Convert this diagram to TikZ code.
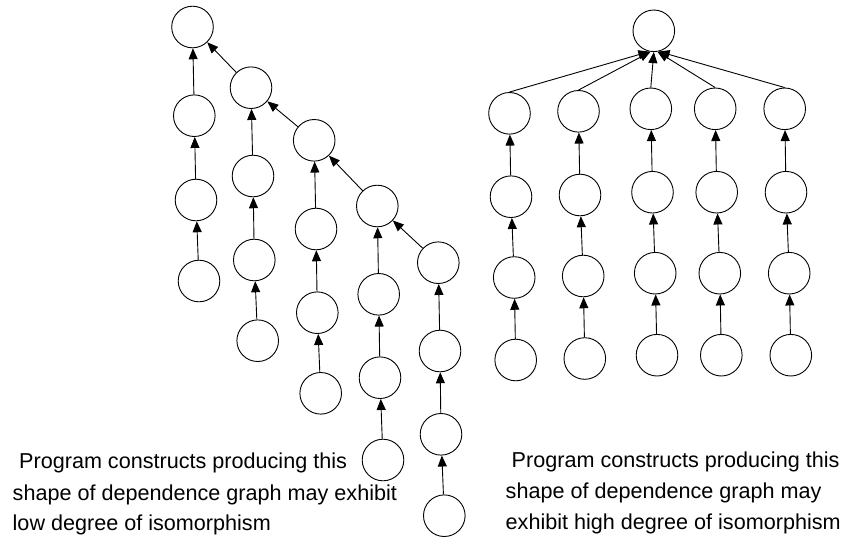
\documentclass[tikz,border=0pt]{standalone}
\usepackage{fontspec}
\setmainfont{Liberation Sans}
\usetikzlibrary{arrows.meta}

\begin{document}
\begin{tikzpicture}[x=1pt,y=-1pt,
  vertex/.style={circle,draw=black,line width=0.9pt,minimum size=41.6pt,inner sep=0pt},
  dep/.style={draw=black,line width=0.9pt,-{Triangle[length=11pt,width=9pt]}},
  caption/.style={anchor=base west,inner sep=0pt,font=\fontsize{21.6}{29.5}\selectfont}]
\useasboundingbox (0,0) rectangle (852,539);

% ---- staircase-shaped dependence graph ----
\node[vertex] (a1) at (192.5,27.0) {};
\node[vertex] (a2) at (194.3,115.7) {};
\node[vertex] (a3) at (196.0,200.0) {};
\node[vertex] (a4) at (199.0,281.0) {};

\node[vertex] (b1) at (251.0,87.7) {};
\node[vertex] (b2) at (253.0,176.0) {};
\node[vertex] (b3) at (254.3,260.0) {};
\node[vertex] (b4) at (257.7,340.7) {};

\node[vertex] (c1) at (314.2,140.3) {};
\node[vertex] (c2) at (316.0,229.0) {};
\node[vertex] (c3) at (317.3,312.7) {};
\node[vertex] (c4) at (320.7,393.3) {};

\node[vertex] (d1) at (377.3,206.0) {};
\node[vertex] (d2) at (378.7,294.3) {};
\node[vertex] (d3) at (380.0,377.7) {};
\node[vertex] (d4) at (383.0,460.0) {};

\node[vertex] (e1) at (438.3,262.7) {};
\node[vertex] (e2) at (440.0,351.0) {};
\node[vertex] (e3) at (441.0,434.3) {};
\node[vertex] (e4) at (444.3,515.7) {};

\foreach \p in {a,b,c,d,e}{
  \path[dep] (\p2) -- (\p1);
  \path[dep] (\p3) -- (\p2);
  \path[dep] (\p4) -- (\p3);
}
\path[dep] (b1) -- (a1);
\path[dep] (c1) -- (b1);
\path[dep] (d1) -- (c1);
\path[dep] (e1) -- (d1);

% ---- fan-shaped dependence graph ----
\node[vertex] (r) at (653.8,30.8) {};

\node[vertex] (p1) at (509.5,113.3) {};
\node[vertex] (p2) at (511.0,196.7) {};
\node[vertex] (p3) at (514.2,277.5) {};
\node[vertex] (p4) at (515.7,360.0) {};

\node[vertex] (q1) at (578.5,111.3) {};
\node[vertex] (q2) at (580.0,195.0) {};
\node[vertex] (q3) at (583.2,276.0) {};
\node[vertex] (q4) at (584.8,358.5) {};

\node[vertex] (s1) at (650.8,108.8) {};
\node[vertex] (s2) at (652.5,192.2) {};
\node[vertex] (s3) at (655.2,273.2) {};
\node[vertex] (s4) at (657.0,355.2) {};

\node[vertex] (t1) at (715.2,108.8) {};
\node[vertex] (t2) at (716.7,192.2) {};
\node[vertex] (t3) at (719.8,273.2) {};
\node[vertex] (t4) at (721.3,355.2) {};

\node[vertex] (u1) at (784.7,108.8) {};
\node[vertex] (u2) at (786.0,192.2) {};
\node[vertex] (u3) at (789.2,273.2) {};
\node[vertex] (u4) at (790.8,355.2) {};

\foreach \p in {p,q,s,t,u}{
  \path[dep] (\p2) -- (\p1);
  \path[dep] (\p3) -- (\p2);
  \path[dep] (\p4) -- (\p3);
}
\path[dep] (p1.north) -- (r.-102);
\path[dep] (q1.north) -- (r.-99);
\path[dep] (s1.north) -- (r.-90);
\path[dep] (t1.north) -- (r.-80);
\path[dep] (u1.north) -- (r.-77);

% ---- captions ----
\node[caption] (l1) at (19.0,468.5) {Program constructs producing this};
\node[caption] (l2) at (12.5,500.0) {shape of dependence graph may exhibit};
\node[caption] (l3) at (12.5,530.5) {low degree of isomorphism};

\node[caption] (h1) at (511.5,467.0) {Program constructs producing this};
\node[caption] (h2) at (505.5,498.5) {shape of dependence graph may};
\node[caption] (h3) at (505.5,529.0) {exhibit high degree of isomorphism};
\end{tikzpicture}
\end{document}
